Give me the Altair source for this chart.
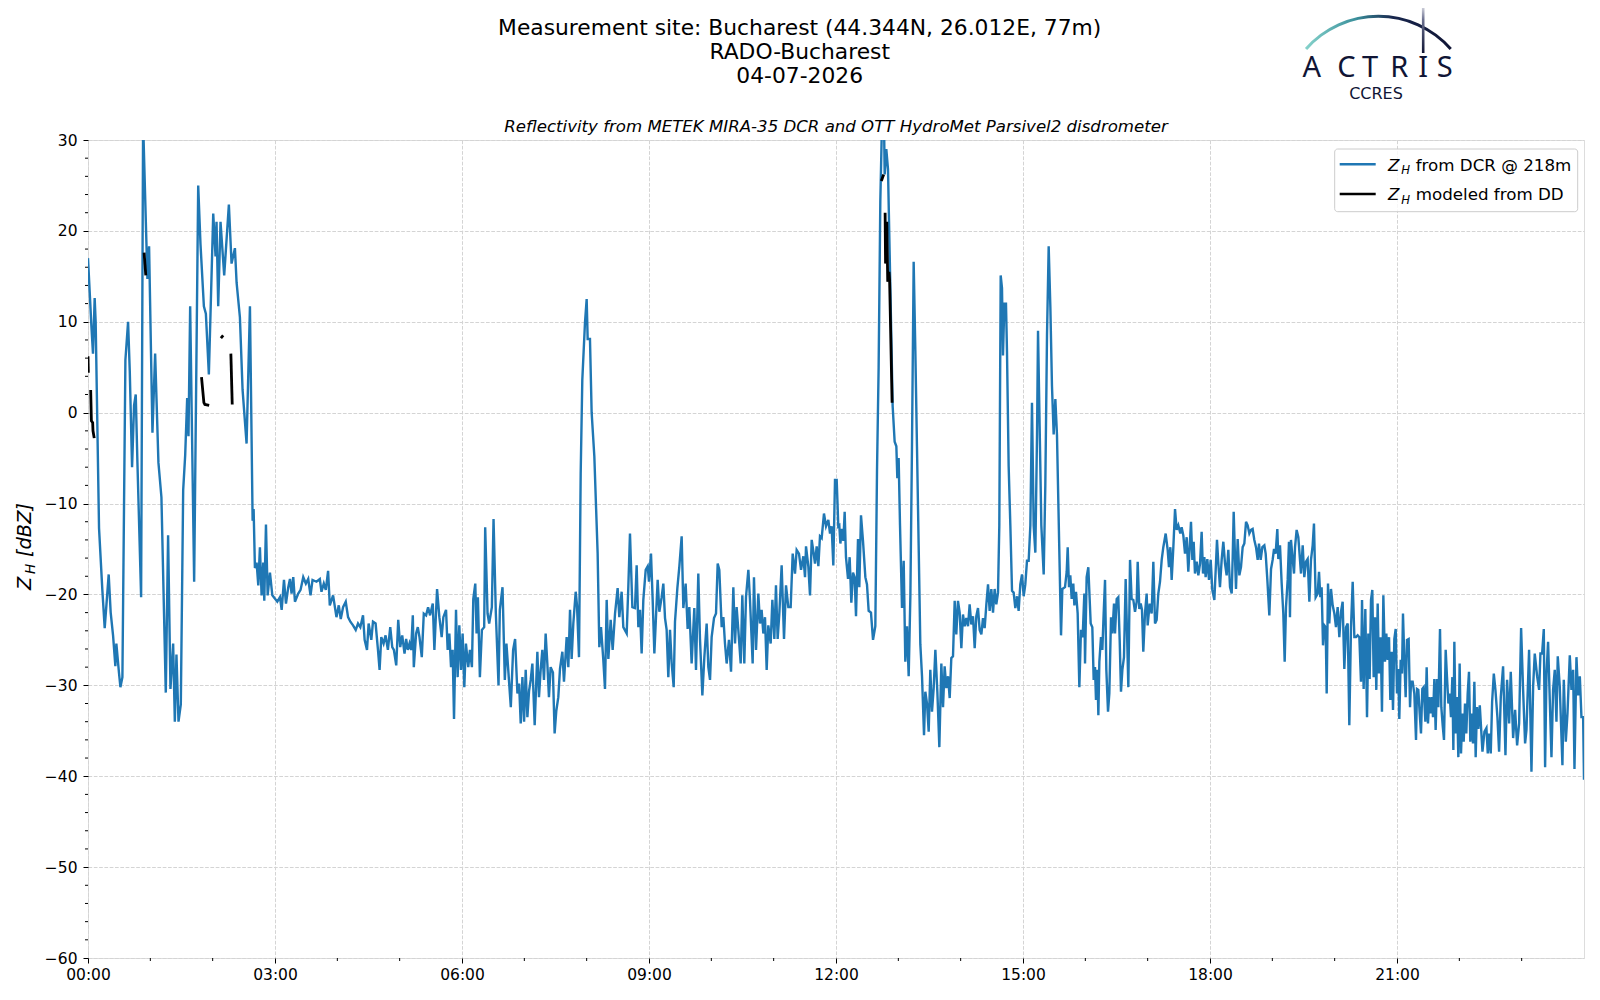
import altair as alt
import pandas as pd

# ---------------- data (hour of day, dBZ) ----------------
dcr_00_03 = [
    (0.000, 17.0), (0.054, 9.6), (0.080, 6.5), (0.107, 12.6), (0.123, 10.0), (0.177, -12.7),
    (0.230, -19.5), (0.268, -23.7), (0.332, -17.8), (0.364, -22.0), (0.402, -24.5), (0.439, -27.9),
    (0.455, -25.4), (0.498, -28.7), (0.520, -30.2), (0.552, -29.1), (0.600, 5.8), (0.643, 10.0),
    (0.670, 4.6), (0.707, -6.0), (0.739, 0.8), (0.766, 2.0), (0.793, -5.5), (0.852, -20.3),
    (0.884, 32.0), (0.953, 14.7), (0.980, 18.3), (1.034, -2.2), (1.077, 6.5), (1.130, -5.5),
    (1.178, -9.3), (1.248, -30.8), (1.285, -13.5), (1.323, -30.4), (1.366, -25.4), (1.393, -34.0),
    (1.419, -26.6), (1.452, -34.0), (1.489, -32.1), (1.527, -8.5), (1.559, -4.7), (1.591, 1.6),
    (1.612, -2.6), (1.639, 11.7), (1.703, -18.6), (1.768, 25.0), (1.805, 18.5), (1.859, 11.7),
    (1.891, 10.9), (1.939, 4.2), (2.009, 21.9), (2.046, 17.2), (2.062, 21.0), (2.089, 11.7),
    (2.126, 21.0), (2.185, 15.1), (2.260, 22.9), (2.303, 16.4), (2.357, 18.1), (2.384, 14.3),
    (2.437, 10.5), (2.480, 2.5), (2.544, -3.4), (2.598, 11.7), (2.641, -11.9), (2.657, -10.6),
    (2.678, -17.1), (2.705, -16.5), (2.732, -19.0), (2.758, -14.8), (2.785, -20.1), (2.812, -16.5),
    (2.828, -20.7), (2.855, -12.3), (2.882, -20.1), (2.919, -17.6), (2.957, -20.1),
]
dcr_03_07 = [
    (3.037, -20.8), (3.080, -20.3), (3.107, -21.7), (3.144, -18.4), (3.176, -21.0), (3.213, -19.2),
    (3.240, -18.3), (3.266, -19.9), (3.293, -18.1), (3.320, -20.8), (3.373, -19.9), (3.410, -19.5),
    (3.453, -18.1), (3.495, -18.8), (3.533, -18.3), (3.570, -20.1), (3.602, -18.4), (3.666, -18.6),
    (3.719, -18.3), (3.746, -19.7), (3.783, -18.8), (3.815, -19.5), (3.852, -17.4), (3.879, -21.2),
    (3.932, -20.1), (3.986, -22.5), (4.023, -21.2), (4.055, -22.7), (4.092, -21.4), (4.135, -20.8),
    (4.172, -22.5), (4.209, -23.0), (4.252, -23.4), (4.295, -23.9), (4.332, -23.2), (4.369, -23.6),
    (4.412, -22.3), (4.438, -25.0), (4.476, -26.1), (4.502, -23.2), (4.545, -25.0), (4.572, -23.0),
    (4.614, -23.2), (4.652, -26.1), (4.678, -28.3), (4.705, -24.7), (4.742, -25.4), (4.774, -24.5),
    (4.811, -26.1), (4.849, -23.6), (4.881, -25.8), (4.907, -26.1), (4.945, -27.8), (4.977, -22.8),
    (5.009, -25.8), (5.041, -24.5), (5.078, -26.5), (5.104, -24.9), (5.131, -26.1), (5.158, -25.4),
    (5.184, -26.1), (5.211, -22.3), (5.227, -28.0), (5.264, -24.3), (5.291, -23.6), (5.318, -24.7),
    (5.355, -26.9), (5.387, -22.1), (5.424, -22.3), (5.456, -21.4), (5.488, -22.3), (5.531, -21.0),
    (5.557, -26.1), (5.600, -19.4), (5.637, -22.5), (5.674, -24.7), (5.701, -22.5), (5.744, -21.7),
    (5.770, -26.1), (5.797, -24.3), (5.824, -28.0), (5.850, -26.1), (5.872, -33.7), (5.904, -21.7),
    (5.930, -29.1), (5.957, -23.4), (5.984, -28.3), (6.010, -24.3), (6.037, -30.2), (6.063, -25.4),
    (6.101, -28.0), (6.127, -26.1), (6.159, -28.0), (6.181, -20.5), (6.213, -18.8), (6.234, -24.3),
    (6.255, -20.3), (6.287, -29.1), (6.319, -23.9), (6.356, -23.6), (6.372, -12.6), (6.410, -22.1),
    (6.436, -23.2), (6.479, -21.4), (6.506, -11.7), (6.543, -22.1), (6.586, -30.0), (6.607, -21.7),
    (6.650, -19.2), (6.687, -29.4), (6.713, -25.4), (6.745, -28.6), (6.783, -32.4), (6.820, -26.1),
    (6.852, -24.9), (6.889, -30.9), (6.916, -29.8), (6.942, -34.2), (6.969, -29.1), (6.996, -34.0),
]
dcr_07_12 = [
    (7.022, -28.3), (7.049, -33.5), (7.076, -30.6), (7.102, -29.4), (7.129, -27.6), (7.166, -34.4),
    (7.209, -26.3), (7.235, -31.3), (7.262, -28.3), (7.289, -26.1), (7.315, -29.4), (7.342, -24.3),
    (7.369, -27.6), (7.395, -31.3), (7.422, -28.0), (7.459, -28.6), (7.486, -35.3), (7.513, -32.8),
    (7.545, -31.3), (7.572, -28.2), (7.610, -26.3), (7.636, -29.6), (7.679, -24.7), (7.706, -28.0),
    (7.733, -21.7), (7.759, -27.1), (7.786, -23.2), (7.824, -19.7), (7.845, -21.2), (7.877, -26.9),
    (7.904, -6.7), (7.930, 3.6), (7.973, 9.9), (8.000, 12.5), (8.016, 8.1), (8.053, 8.1),
    (8.080, 0.0), (8.123, -4.8), (8.176, -15.5), (8.203, -25.8), (8.230, -23.6), (8.267, -27.2),
    (8.294, -30.4), (8.321, -20.6), (8.348, -27.1), (8.385, -22.8), (8.417, -26.1), (8.455, -22.1),
    (8.497, -19.3), (8.524, -22.5), (8.561, -19.7), (8.588, -23.6), (8.642, -24.3), (8.668, -19.2),
    (8.695, -13.3), (8.733, -21.4), (8.775, -21.5), (8.802, -16.8), (8.829, -23.6), (8.856, -21.7),
    (8.882, -26.5), (8.909, -20.6), (8.947, -17.3), (8.979, -16.9), (9.000, -18.6), (9.032, -15.5),
    (9.059, -20.6), (9.086, -26.5), (9.112, -22.5), (9.139, -18.4), (9.166, -21.9), (9.203, -20.3),
    (9.230, -18.8), (9.257, -22.6), (9.283, -23.9), (9.310, -29.1), (9.337, -23.9), (9.364, -27.6),
    (9.396, -30.2), (9.417, -23.0), (9.455, -19.3), (9.487, -16.9), (9.524, -13.6), (9.551, -21.5),
    (9.588, -18.8), (9.620, -23.8), (9.647, -21.4), (9.684, -27.6), (9.727, -21.5), (9.754, -28.3),
    (9.791, -17.7), (9.818, -24.9), (9.856, -31.1), (9.888, -26.9), (9.925, -23.2), (9.952, -28.0),
    (9.979, -29.4), (10.005, -24.7), (10.043, -22.6), (10.075, -22.1), (10.102, -16.6), (10.128, -17.3),
    (10.166, -23.6), (10.193, -22.5), (10.219, -25.4), (10.246, -27.6), (10.283, -25.0), (10.316, -28.5),
    (10.353, -19.2), (10.380, -25.4), (10.406, -21.4), (10.433, -23.9), (10.471, -27.6), (10.497, -20.1),
    (10.529, -27.6), (10.556, -20.3), (10.594, -17.3), (10.620, -20.6), (10.663, -27.6), (10.684, -18.1),
    (10.717, -26.1), (10.754, -19.9), (10.781, -23.2), (10.807, -21.7), (10.834, -24.3), (10.861, -22.5),
    (10.888, -28.3), (10.914, -23.4), (10.952, -25.4), (10.979, -20.6), (11.011, -24.9), (11.037, -19.0),
    (11.064, -24.9), (11.091, -22.1), (11.128, -16.8), (11.166, -24.9), (11.198, -19.0), (11.235, -21.4),
    (11.273, -21.4), (11.305, -15.5), (11.342, -17.7), (11.369, -15.1), (11.406, -15.5), (11.439, -17.3),
    (11.476, -15.8), (11.503, -18.1), (11.519, -14.7), (11.556, -16.9), (11.583, -20.1), (11.610, -14.0),
    (11.642, -15.5), (11.663, -16.6), (11.690, -14.7), (11.717, -16.9), (11.743, -13.6), (11.770, -13.8),
    (11.807, -11.1), (11.840, -12.5), (11.877, -11.8), (11.904, -13.3), (11.930, -12.5), (11.957, -16.8),
    (11.984, -7.4), (12.011, -7.4), (12.037, -12.5),
]
dcr_12_16 = [
    (12.053, -12.4), (12.070, -14.4), (12.096, -12.8), (12.118, -14.1), (12.139, -10.9), (12.160, -15.9),
    (12.193, -18.3), (12.219, -15.9), (12.246, -20.9), (12.273, -17.6), (12.299, -18.1), (12.321, -22.4),
    (12.353, -13.9), (12.374, -19.2), (12.401, -11.3), (12.433, -14.1), (12.471, -18.1), (12.497, -18.9),
    (12.524, -21.8), (12.561, -22.0), (12.594, -25.0), (12.631, -23.5), (12.658, -6.3), (12.684, 5.0),
    (12.711, 23.3), (12.738, 32.0), (12.770, 32.0), (12.781, 26.2), (12.807, 29.0), (12.834, 26.8),
    (12.872, 13.7), (12.909, 0.7), (12.941, -3.2), (12.968, -3.7), (12.984, -7.2), (13.005, -5.0),
    (13.027, -12.4), (13.059, -21.5), (13.086, -16.3), (13.112, -27.4), (13.139, -23.5), (13.166, -29.0),
    (13.193, -20.2), (13.219, -3.7), (13.246, 16.6), (13.273, 6.8), (13.299, -3.7), (13.326, -14.6),
    (13.353, -25.5), (13.380, -29.0), (13.412, -35.5), (13.433, -30.7), (13.460, -32.0), (13.487, -35.1),
    (13.513, -28.3), (13.540, -32.9), (13.567, -30.3), (13.594, -26.1), (13.626, -30.7), (13.658, -36.8),
    (13.690, -27.6), (13.717, -32.4), (13.743, -27.9), (13.770, -30.3), (13.797, -29.0), (13.824, -31.4),
    (13.850, -27.0), (13.877, -26.8), (13.904, -20.7), (13.930, -24.4), (13.957, -20.7), (13.984, -22.0),
    (14.011, -25.9), (14.037, -22.2), (14.064, -23.5), (14.091, -22.6), (14.118, -23.5), (14.144, -21.1),
    (14.171, -23.3), (14.198, -22.4), (14.225, -25.9), (14.251, -22.4), (14.278, -21.5), (14.305, -23.9),
    (14.332, -24.4), (14.358, -22.6), (14.385, -23.7), (14.412, -21.1), (14.439, -18.9), (14.465, -21.8),
    (14.492, -19.4), (14.519, -22.0), (14.545, -19.4), (14.572, -21.1), (14.599, -19.8), (14.620, -12.4),
    (14.642, 15.1), (14.663, 13.7), (14.679, 6.3), (14.701, 12.0), (14.727, 12.0), (14.743, 6.8),
    (14.770, -5.9), (14.797, -12.4), (14.824, -19.6), (14.850, -19.8), (14.877, -21.5), (14.904, -20.2),
    (14.930, -21.8), (14.957, -18.9), (14.984, -17.8), (15.011, -20.2), (15.037, -18.9), (15.064, -16.3),
    (15.091, -16.3), (15.118, -12.4), (15.144, 1.1), (15.171, -12.4), (15.198, -15.4), (15.225, -2.4),
    (15.241, 9.0), (15.267, -1.5), (15.294, -12.4), (15.332, -17.8), (15.358, -8.0), (15.385, 8.5),
    (15.412, 18.3), (15.439, 11.6), (15.465, 2.9), (15.492, -2.4), (15.519, 1.5), (15.545, -2.4),
]
dcr_16_19 = [
    (15.610, -24.5), (15.631, -19.4), (15.674, -19.2), (15.701, -17.5), (15.717, -14.8), (15.738, -19.2),
    (15.759, -17.9), (15.781, -20.5), (15.807, -18.8), (15.824, -21.2), (15.850, -19.7), (15.877, -22.1),
    (15.904, -30.2), (15.930, -23.9), (15.957, -24.7), (15.984, -19.9), (15.995, -27.6), (16.021, -18.1),
    (16.048, -17.0), (16.086, -23.2), (16.112, -23.6), (16.134, -29.4), (16.155, -28.0), (16.171, -31.6),
    (16.193, -28.3), (16.209, -33.3), (16.225, -27.4), (16.251, -24.7), (16.273, -26.1), (16.294, -22.1),
    (16.316, -18.4), (16.337, -28.3), (16.364, -32.9), (16.385, -30.9), (16.412, -22.5), (16.433, -24.3),
    (16.460, -21.0), (16.476, -24.3), (16.503, -20.5), (16.529, -20.3), (16.551, -25.0), (16.572, -30.7),
    (16.594, -28.3), (16.620, -26.9), (16.647, -18.3), (16.668, -23.9), (16.690, -30.2), (16.717, -16.2),
    (16.743, -20.5), (16.770, -20.6), (16.797, -21.9), (16.824, -20.8), (16.840, -16.4), (16.866, -21.6),
    (16.888, -21.0), (16.909, -21.7), (16.930, -26.3), (16.957, -22.1), (16.984, -19.9), (17.000, -23.4),
    (17.032, -21.0), (17.064, -22.1), (17.091, -16.4), (17.118, -23.2), (17.144, -22.8), (17.171, -19.9),
    (17.198, -18.6), (17.225, -16.2), (17.251, -14.8), (17.289, -13.3), (17.321, -15.1), (17.342, -17.0),
    (17.364, -14.8), (17.385, -18.4), (17.412, -14.8), (17.439, -10.6), (17.465, -12.9), (17.492, -12.4),
    (17.524, -13.3), (17.545, -12.6), (17.572, -13.5), (17.599, -15.5), (17.626, -13.7), (17.652, -17.5),
    (17.674, -14.8), (17.695, -12.0), (17.717, -16.2), (17.738, -14.2), (17.759, -17.7), (17.786, -16.4),
    (17.813, -17.9), (17.840, -16.6), (17.866, -13.1), (17.888, -17.7), (17.909, -15.9), (17.930, -18.1),
    (17.957, -16.1), (17.984, -18.4), (18.011, -16.2), (18.037, -19.5), (18.070, -20.6), (18.096, -16.6),
    (18.112, -14.0), (18.134, -16.6), (18.160, -19.2), (18.187, -16.2), (18.214, -14.2), (18.241, -16.6),
    (18.267, -17.9), (18.294, -15.1), (18.321, -19.2), (18.348, -19.9), (18.364, -15.9), (18.380, -10.9),
    (18.401, -15.9), (18.417, -19.4), (18.444, -13.9), (18.471, -17.9), (18.497, -17.0), (18.524, -14.8),
    (18.551, -14.4), (18.578, -12.0), (18.604, -12.4), (18.631, -13.3), (18.658, -12.9), (18.684, -12.8),
    (18.711, -14.0), (18.738, -14.8), (18.765, -16.2), (18.786, -14.4), (18.813, -16.2), (18.840, -14.8),
    (18.872, -14.6), (18.893, -15.5), (18.920, -18.4), (18.952, -22.3), (18.979, -17.2), (19.005, -16.2),
    (19.027, -15.0), (19.053, -15.5), (19.080, -12.8), (19.096, -16.1), (19.123, -14.6), (19.150, -18.8),
    (19.176, -22.1), (19.198, -27.4), (19.219, -21.4), (19.246, -18.4), (19.267, -14.2), (19.283, -22.5),
    (19.299, -14.0), (19.326, -16.1), (19.348, -17.7), (19.364, -14.8), (19.390, -12.9), (19.417, -13.7),
]
dcr_19_22 = [
    (19.460, -17.7), (19.487, -14.6), (19.513, -18.1), (19.540, -16.4), (19.567, -16.1), (19.594, -20.8),
    (19.620, -16.2), (19.647, -14.6), (19.668, -12.2), (19.695, -20.3), (19.727, -19.9), (19.749, -17.5),
    (19.770, -20.3), (19.791, -19.2), (19.813, -25.6), (19.834, -23.4), (19.856, -23.6), (19.872, -30.9),
    (19.893, -18.8), (19.914, -23.2), (19.941, -19.4), (19.968, -21.2), (19.995, -22.1), (20.021, -23.6),
    (20.048, -21.4), (20.075, -24.7), (20.102, -21.9), (20.128, -20.8), (20.155, -28.2), (20.182, -23.6),
    (20.209, -23.2), (20.235, -34.4), (20.262, -23.6), (20.289, -18.6), (20.316, -24.7), (20.342, -24.7),
    (20.369, -24.5), (20.396, -24.7), (20.422, -29.6), (20.439, -20.6), (20.465, -30.4), (20.492, -21.6),
    (20.519, -33.5), (20.540, -24.3), (20.561, -29.3), (20.583, -20.6), (20.604, -19.5), (20.626, -29.1),
    (20.647, -22.5), (20.668, -30.5), (20.690, -21.0), (20.711, -28.7), (20.738, -24.7), (20.759, -32.9),
    (20.781, -20.1), (20.807, -27.4), (20.829, -24.3), (20.850, -27.2), (20.872, -24.7), (20.893, -31.6),
    (20.914, -26.3), (20.936, -32.7), (20.957, -24.9), (20.979, -23.8), (21.000, -30.9), (21.021, -28.2),
    (21.037, -33.7), (21.059, -27.2), (21.080, -28.7), (21.096, -22.1), (21.118, -27.2), (21.139, -31.3),
    (21.160, -25.0), (21.187, -24.9), (21.209, -32.4), (21.225, -29.6), (21.251, -29.6), (21.278, -30.9),
    (21.305, -36.0), (21.321, -30.4), (21.342, -30.5), (21.364, -33.1), (21.385, -35.3), (21.406, -30.4),
    (21.428, -30.2), (21.455, -34.0), (21.476, -28.0), (21.497, -34.2), (21.519, -31.3), (21.540, -33.1),
    (21.561, -31.3), (21.578, -33.5), (21.599, -29.3), (21.620, -34.9), (21.642, -29.3), (21.663, -32.4),
    (21.690, -23.8), (21.711, -32.4), (21.733, -34.4), (21.754, -36.0), (21.781, -26.1), (21.802, -29.1),
    (21.824, -32.0), (21.845, -30.9), (21.866, -33.5), (21.888, -29.1), (21.904, -37.1), (21.920, -25.2),
    (21.941, -35.3), (21.963, -31.3), (21.984, -37.9), (22.005, -27.6), (22.027, -37.5), (22.048, -33.1),
    (22.070, -36.2), (22.091, -32.0), (22.112, -35.3), (22.134, -30.9), (22.155, -28.5), (22.176, -36.2),
    (22.198, -33.1), (22.219, -36.4), (22.241, -29.6), (22.262, -37.9), (22.283, -32.4), (22.305, -34.8),
]
dcr_22_24 = [
    (22.328, -32.2), (22.371, -37.3), (22.403, -35.1), (22.435, -34.7), (22.456, -37.5), (22.478, -35.3),
    (22.504, -37.5), (22.526, -31.8), (22.553, -28.7), (22.579, -30.5), (22.611, -33.5), (22.638, -37.3),
    (22.665, -31.3), (22.702, -27.9), (22.740, -37.7), (22.766, -29.4), (22.799, -34.2), (22.825, -28.5),
    (22.863, -35.8), (22.895, -32.7), (22.927, -36.6), (22.959, -34.2), (22.991, -23.7), (23.023, -30.5),
    (23.055, -36.4), (23.077, -34.9), (23.119, -26.1), (23.157, -39.5), (23.184, -30.1), (23.210, -26.5),
    (23.248, -29.0), (23.280, -30.5), (23.301, -26.5), (23.328, -26.5), (23.355, -23.8), (23.376, -39.0),
    (23.398, -28.7), (23.424, -25.2), (23.451, -31.6), (23.478, -37.9), (23.504, -30.5), (23.531, -28.3),
    (23.558, -34.0), (23.579, -26.8), (23.611, -30.1), (23.654, -38.8), (23.676, -29.4), (23.708, -36.2),
    (23.735, -33.1), (23.772, -26.7), (23.799, -30.5), (23.826, -28.3), (23.847, -39.2), (23.879, -26.9),
    (23.906, -31.1), (23.933, -29.0), (23.959, -33.5), (23.986, -33.5), (24.000, -40.4),
]

# disdrometer-modelled reflectivity: separate short segments
dd_segments = [
    [(0.000, 6.2), (0.005, 4.4)],
    [(0.043, 2.5), (0.054, -0.9), (0.075, -1.1), (0.080, -2.0), (0.100, -2.8)],
    [(0.900, 17.6), (0.927, 15.1)],
    [(1.821, 3.9), (1.859, 1.1), (1.875, 0.9), (1.944, 0.8)],
    [(2.132, 8.2), (2.169, 8.5)],
    [(2.292, 6.5), (2.314, 0.9)],
    [(12.727, 25.5), (12.765, 26.2)],
    [(12.788, 22.0), (12.795, 16.4), (12.815, 21.0), (12.830, 14.4), (12.850, 15.5),
     (12.860, 14.6), (12.900, 1.1)],
]

x_major_hours = [0, 3, 6, 9, 12, 15, 18, 21]
x_minor_hours = [1, 2, 4, 5, 7, 8, 10, 11, 13, 14, 16, 17, 19, 20, 22, 23]
y_major = [-60, -50, -40, -30, -20, -10, 0, 10, 20, 30]
y_minor = [-58, -56, -54, -52, -48, -46, -44, -42, -38, -36, -34, -32, -28, -26, -24, -22,
           -18, -16, -14, -12, -8, -6, -4, -2, 2, 4, 6, 8, 12, 14, 16, 18, 22, 24, 26, 28]

title_lines = ["Measurement site: Bucharest (44.344N, 26.012E, 77m)", "RADO-Bucharest", "04-07-2026"]
subtitle = "Reflectivity from METEK MIRA-35 DCR and OTT HydroMet Parsivel2 disdrometer"
legend_rest = ["from DCR @ 218m", "modeled from DD"]

# ---------------- build frames ----------------
dcr_all = dcr_00_03 + dcr_03_07 + dcr_07_12 + dcr_12_16 + dcr_16_19 + dcr_19_22 + dcr_22_24
dcr_df = pd.DataFrame(dcr_all, columns=["hour", "dbz"])
dd_rows = []
for i, seg in enumerate(dd_segments):
    for j, (h, v) in enumerate(seg):
        dd_rows.append({"hour": h, "dbz": v, "seg": i, "order": j})
dd_df = pd.DataFrame(dd_rows)

W, H = 1496, 818
FONT = "DejaVu Sans"
BLUE = "#1f77b4"
NAVY = "#101535"

xscale = alt.Scale(domain=[0, 24], nice=False, zero=False)
yscale = alt.Scale(domain=[-60, 30], nice=False, zero=False)

grid_kw = dict(grid=True, gridColor="#d4d4d4", gridDash=[3.7, 1.6], gridWidth=1)
lab_kw = dict(labelFont=FONT, labelFontSize=15.5, labelColor="black", tickColor="black",
              tickWidth=1, tickSize=5, domain=False, labelFlush=False, labelOverlap=False)

x_enc = alt.X("hour:Q", scale=xscale, title=None,
              axis=alt.Axis(values=x_major_hours, labelPadding=4,
                            labelExpr="(datum.value < 10 ? '0' : '') + datum.value + ':00'",
                            **grid_kw, **lab_kw))
y_enc = alt.Y("dbz:Q", scale=yscale, title=None,
              axis=alt.Axis(values=y_major, labelPadding=6,
                            labelExpr="replace(datum.label, '-', '\u2212')",
                            **grid_kw, **lab_kw))

dcr_line = alt.Chart(dcr_df).mark_line(color=BLUE, strokeWidth=2.4, clip=True).encode(
    x=x_enc, y=y_enc, order="hour:Q")

dd_line = alt.Chart(dd_df).mark_line(color="black", strokeWidth=2.8, clip=True).encode(
    x=alt.X("hour:Q", scale=xscale, title=None),
    y=alt.Y("dbz:Q", scale=yscale, title=None),
    detail="seg:N", order="order:Q")

ymin_df = pd.DataFrame({"dbz": y_minor})
xmin_df = pd.DataFrame({"hour": x_minor_hours})
y_minor_ticks = alt.Chart(ymin_df).mark_rule(color="black", strokeWidth=1).encode(
    y=alt.Y("dbz:Q", scale=yscale, title=None), x=alt.value(-3), x2=alt.value(0))
x_minor_ticks = alt.Chart(xmin_df).mark_rule(color="black", strokeWidth=1).encode(
    x=alt.X("hour:Q", scale=xscale, title=None), y=alt.value(H), y2=alt.value(H + 3))

one = pd.DataFrame({"k": [0]})


def txt(s, x, y, size, font=FONT, style="normal", align="center", baseline="alphabetic",
        color="black", angle=0, weight="normal"):
    kw = dict(text=s, fontSize=size, font=font, fontStyle=style, align=align,
              baseline=baseline, color=color, fontWeight=weight)
    if angle:
        kw["angle"] = angle
    return alt.Chart(one).mark_text(**kw).encode(x=alt.value(x), y=alt.value(y))


deco = []
# titles
deco.append(txt(title_lines[0], 711.7, -105.0, 21.8))
deco.append(txt(title_lines[1], 711.7, -81.0, 21.8))
deco.append(txt(title_lines[2], 711.7, -57.0, 21.8))
deco.append(txt(subtitle, 748, -8.3, 16.6, style="italic"))

# y-axis title  Z_H [dBZ]
deco.append(txt("Z", -56.6, 450, 19.4, style="italic", align="left", angle=270))
deco.append(txt("H", -53.0, 434, 13.6, style="italic", align="left", angle=270))
deco.append(txt("[dBZ]", -56.6, 417, 19.4, style="italic", align="left", angle=270))

# legend
deco.append(alt.Chart(one).mark_rect(fill="white", fillOpacity=0.8, stroke="#cccccc",
                                     strokeWidth=1, cornerRadius=3).encode(
    x=alt.value(1246.7), x2=alt.value(1489.7), y=alt.value(9), y2=alt.value(71.7)))
for i, (col, rest) in enumerate(zip([BLUE, "black"], legend_rest)):
    yc = 24.3 + i * 29.7
    deco.append(alt.Chart(one).mark_rule(color=col, strokeWidth=2.4).encode(
        x=alt.value(1251.7), x2=alt.value(1287.7), y=alt.value(yc)))
    deco.append(txt("Z", 1300, yc + 6.4, 16.7, style="italic", align="left"))
    deco.append(txt("H", 1313.2, yc + 9.5, 11.7, style="italic", align="left"))
    deco.append(txt(rest, 1327.7, yc + 6.4, 16.7, align="left"))

# ACTRIS logo
arc_grad = alt.Gradient(gradient="linear", x1=0, x2=1, y1=0, y2=0,
                        stops=[alt.GradientStop(offset=0, color="#86d3cb"),
                               alt.GradientStop(offset=0.35, color="#3a8f9b"),
                               alt.GradientStop(offset=0.6, color="#18264d"),
                               alt.GradientStop(offset=1, color=NAVY)])
deco.append(alt.Chart(one).mark_arc(radius=94.8, radius2=97.8, theta=5.433, theta2=7.133,
                                    color=arc_grad).encode(
    x=alt.value(1290.4), y=alt.value(-27.5)))
bar_grad = alt.Gradient(gradient="linear", x1=0, x2=0, y1=0, y2=1,
                        stops=[alt.GradientStop(offset=0, color="#ffffff"),
                               alt.GradientStop(offset=0.35, color="#6c7190"),
                               alt.GradientStop(offset=1, color=NAVY)])
deco.append(alt.Chart(one).mark_rect(color=bar_grad).encode(
    x=alt.value(1333.9), x2=alt.value(1336.5), y=alt.value(-138.5), y2=alt.value(-87)))
for letter, lx in zip("ACTRIS", [1223.7, 1258.4, 1282.0, 1311.2, 1335.2, 1356.7]):
    deco.append(txt(letter, lx, -62.7, 29, font="Noto Sans", color=NAVY))
deco.append(txt("CCRES", 1288, -41, 16, color=NAVY))

chart = alt.layer(dcr_line, dd_line, y_minor_ticks, x_minor_ticks, *deco).properties(
    width=W, height=H,
    padding={"left": 80, "top": 132, "right": 8, "bottom": 30},
    autosize=alt.AutoSizeParams(type="none"),
    background="white",
).configure_view(stroke="black", strokeWidth=1.1).configure(font=FONT)

chart.save("out.html", embed_options={"renderer": "svg", "actions": False})
